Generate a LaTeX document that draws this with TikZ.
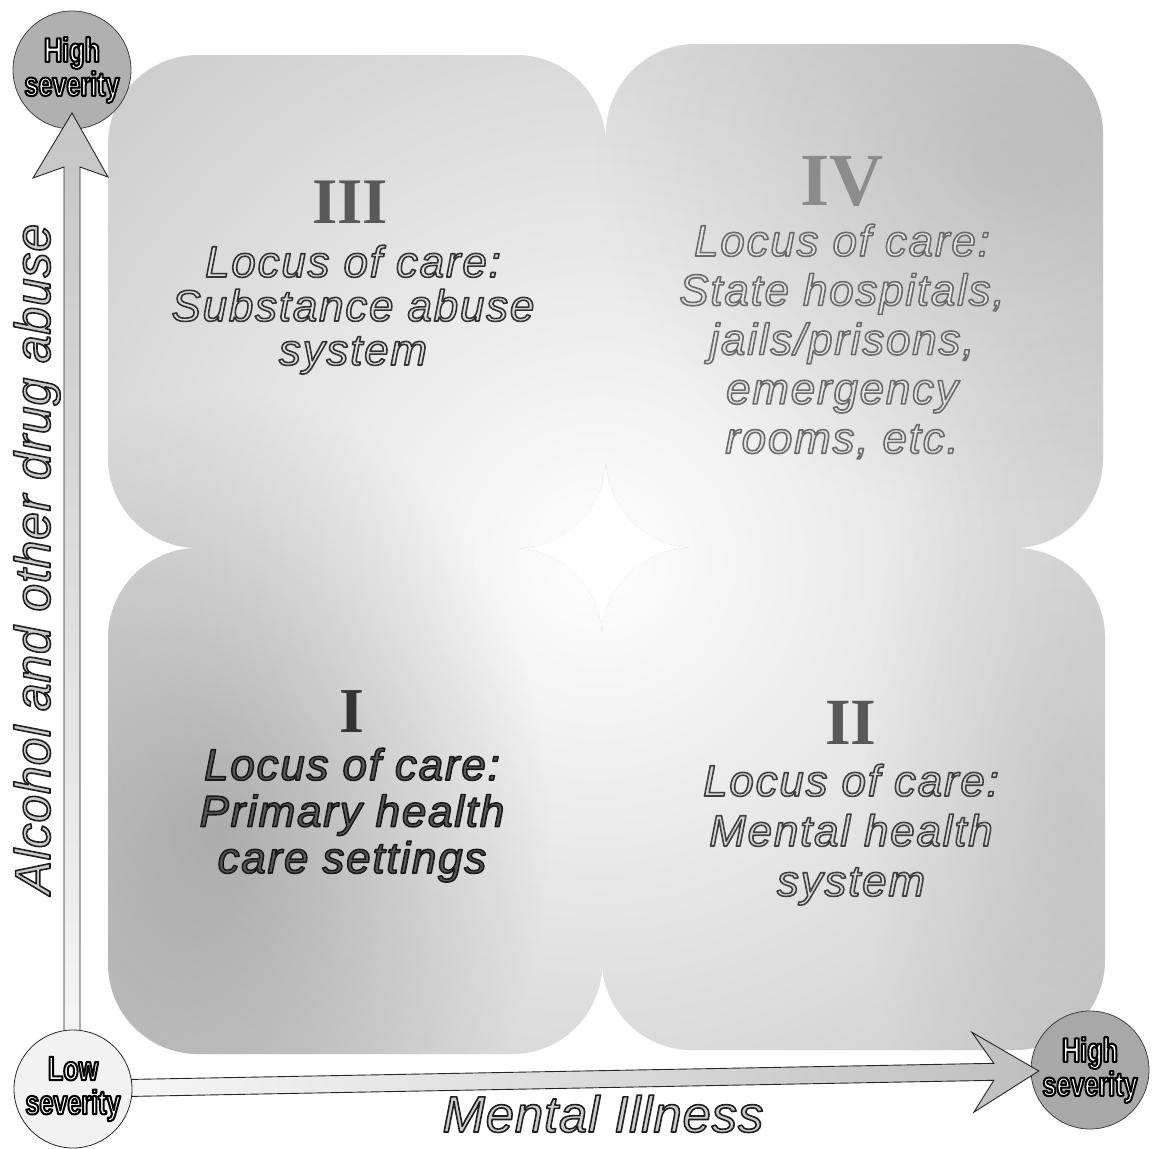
\documentclass[tikz,border=0pt]{standalone}
\usepackage{fontspec}
\setmainfont{Liberation Serif}
\newfontfamily\qfont[LetterSpace=4]{Liberation Sans}
\newfontfamily\axfont[LetterSpace=1.5]{Liberation Sans}
\newfontfamily\circfont[FakeStretch=0.74]{Liberation Sans}
\usetikzlibrary{fadings,calc}
\tikzfading[name=cfade, inner color=transparent!0, outer color=transparent!100]
% outlined text: [stroke width], edge grey level, fill colour, text
\newcommand\olt[4][1.6]{{\color{#3}\special{pdf:literal direct #2 G 2 Tr #1 w 1 j}#4\special{pdf:literal direct 0 Tr 0.4 w 0 j}}}
\begin{document}
\begin{tikzpicture}[x=1pt,y=-1pt,
  hicirc/.style={circle, minimum size=118pt, inner sep=0pt, fill=gray!62, draw=black!75, line width=0.8pt,
     font=\circfont\bfseries\fontsize{34}{34}\selectfont, align=center},
  locirc/.style={hicirc, fill=gray!10, draw=black!85},
  arrowv/.style={draw=black!85, line width=0.9pt, top color=gray!45, bottom color=gray!8},
  arrowh/.style={draw=black!85, line width=0.9pt, left color=gray!6, right color=gray!50},
  qtxt/.style={font=\qfont\itshape\fontsize{44}{44}\selectfont, anchor=base, inner sep=0pt},
  numst/.style={font=\bfseries\fontsize{#1}{#1}\selectfont, anchor=base, inner sep=0pt},
  axtxt/.style={font=\axfont\itshape\fontsize{#1}{#1}\selectfont, anchor=base, inner sep=0pt}]
\useasboundingbox (0,0) rectangle (1152,1149);
\fill[white] (0,0) rectangle (1152,1149);

% the four quadrants
\fill[gray!45, rounded corners=90pt] (108,55) rectangle (606,548) (606,44) rectangle (1103,548)
   (108,548) rectangle (602,1054) (602,548) rectangle (1105,1050);
\begin{scope}
  \clip[rounded corners=90pt] (108,55) rectangle (606,548) (606,44) rectangle (1103,548)
   (108,548) rectangle (602,1054) (602,548) rectangle (1105,1050);
  \fill[white, path fading=cfade] (598,560) circle (780);
  \fill[black, opacity=0.22, path fading=cfade] (220,830) ellipse (330 and 440);
  \fill[black, opacity=0.10, path fading=cfade] (1010,160) ellipse (420 and 360);
  \fill[black, opacity=0.08, path fading=cfade] (1060,800) ellipse (200 and 500);
\end{scope}

% severity circles and axes
\node[hicirc] (hst) at (72,70) {\olt[2]{0}{white}{High}\\\olt[2]{0}{white}{severity}};
\node[hicirc, fill=gray!68] (hsr) at (1090,1070) {\olt[2]{0}{white}{High}\\\olt[2]{0}{white}{severity}};
\coordinate (lowc) at (73,1089);

\path[arrowv] ($(lowc)+(-9,-40)$) -- ($(hst.center)+(-8,97)$) -- ($(hst.center)+(-39,108)$)
   -- ($(hst.center)+(0,43)$) -- ($(hst.center)+(36,107)$) -- ($(hst.center)+(8,97)$)
   -- ($(lowc)+(7,-40)$) -- cycle;
\path[arrowh] ($(lowc)!40pt!(hsr.center)+(0,-8.5)$) -- ($(lowc)!921pt!(hsr.center)+(0,-8.5)$)
   -- ($(lowc)!899pt!(hsr.center)+(0,-40)$) -- ($(lowc)!966pt!(hsr.center)$)
   -- ($(lowc)!901pt!(hsr.center)+(0,40)$) -- ($(lowc)!921pt!(hsr.center)+(0,8.5)$)
   -- ($(lowc)!40pt!(hsr.center)+(0,8.5)$) -- cycle;

\node[locirc] (low) at (lowc) {\olt[2]{0}{white}{Low}\\\olt[2]{0}{white}{severity}};

% axis labels
\node[axtxt=50, rotate=90] (ylab) at (50,559) {\olt{0.12}{gray!40}{Alcohol and other drug abuse}};
\node[axtxt=51] (xlab) at (603,1132) {\olt{0.12}{gray!40}{Mental Illness}};

% numerals
\node[numst=65, text=black!65] (n3) at (350,223) {III};
\node[numst=75, text=black!45] (n4) at (842,205) {IV};
\node[numst=64, text=black!80] (n1) at (352,732) {I};
\node[numst=66, text=black!65] (n2) at (851,744) {II};

% quadrant texts
\foreach \qq [count=\i] in {Locus of care:, Substance abuse, system}
  \node[qtxt] (q3-\i) at (353,{277+44*(\i-1)}) {\olt{0.2}{gray!25}{\qq}};
\foreach \qq [count=\i] in {Locus of care:, {State hospitals,}, {jails/prisons,}, emergency, {rooms, etc.}}
  \node[qtxt] (q4-\i) at (842,{256+49.3*(\i-1)}) {\olt{0.42}{gray!20}{\qq}};
\foreach \qq [count=\i] in {Locus of care:, Primary health, care settings}
  \node[qtxt] (q1-\i) at (352,{780+46.5*(\i-1)}) {\olt{0.1}{black!65}{\qq}};
\foreach \qq [count=\i] in {Locus of care:, Mental health, system}
  \node[qtxt] (q2-\i) at (851,{796+50*(\i-1)}) {\olt{0.25}{gray!30}{\qq}};
\end{tikzpicture}
\end{document}
